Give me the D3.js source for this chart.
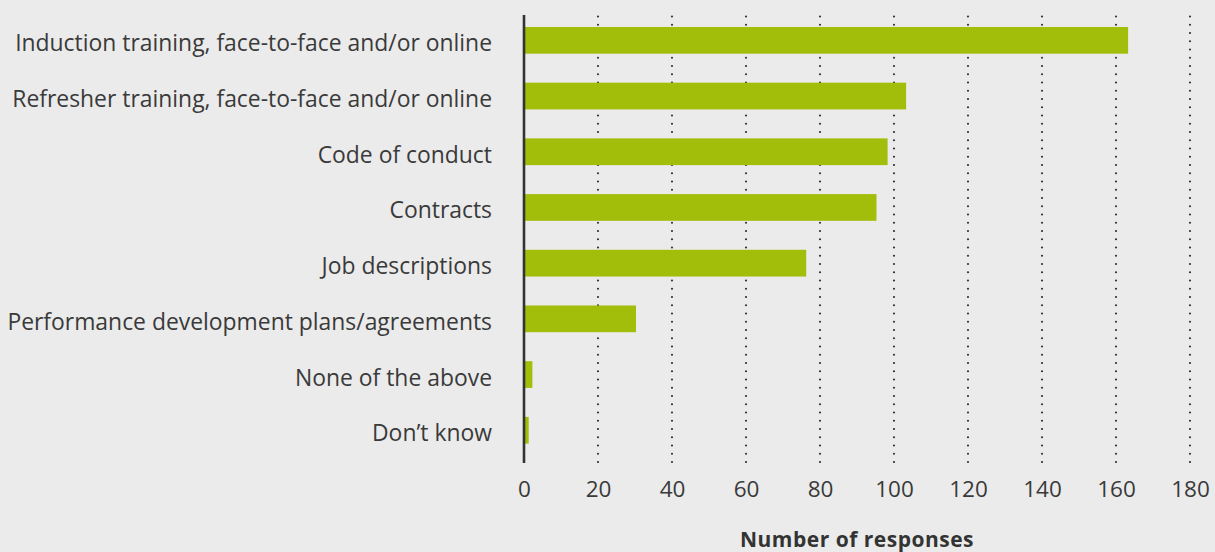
<!DOCTYPE html>
<html>
<head>
<meta charset="utf-8">
<script src="https://cdn.jsdelivr.net/npm/d3@7"></script>
<style>
  html, body { margin: 0; padding: 0; background: #ebebeb; }
  svg { display: block; }
</style>
</head>
<body>
<svg id="chart" width="1215" height="552"></svg>
<script>
// Training and documents used, number of responses per item
const categories = [
  "Induction training, face-to-face and/or online",
  "Refresher training, face-to-face and/or online",
  "Code of conduct",
  "Contracts",
  "Job descriptions",
  "Performance development plans/agreements",
  "None of the above",
  "Don\u2019t know"
];
const responses = [163, 103, 98, 95, 76, 30, 2, 1];
const tickValues = [0, 20, 40, 60, 80, 100, 120, 140, 160, 180];
const axisTitle = "Number of responses";

const W = 1215, H = 552;
const svg = d3.select("#chart");
svg.append("rect").attr("width", W).attr("height", H).attr("fill", "#ebebeb");

const font = "'Open Sans', 'Noto Sans', sans-serif";
const textColor = "#3a3a3a";

const x = d3.scaleLinear().domain([0, 180]).range([524, 1190]);
const y = d3.scaleBand().domain(categories).range([12.5, 458.1])
  .paddingInner(0.52).paddingOuter(0.26);

const plotTop = 15, plotBottom = 463;

// dotted vertical gridlines
svg.append("g").selectAll("line")
  .data(tickValues.filter(v => v > 0))
  .join("line")
  .attr("x1", d => x(d)).attr("x2", d => x(d))
  .attr("y1", plotTop + 1.5).attr("y2", plotBottom)
  .attr("stroke", "#333")
  .attr("stroke-width", 2.2)
  .attr("stroke-linecap", "round")
  .attr("stroke-dasharray", "0 8.25");

// bars
svg.append("g").selectAll("rect")
  .data(categories)
  .join("rect")
  .attr("x", x(0) + 1)
  .attr("y", d => y(d))
  .attr("width", (d, i) => x(responses[i]) - x(0))
  .attr("height", y.bandwidth())
  .attr("fill", "#a3bd0b");

// category axis line
svg.append("line")
  .attr("x1", x(0)).attr("x2", x(0))
  .attr("y1", plotTop).attr("y2", plotBottom)
  .attr("stroke", "#333").attr("stroke-width", 2.6);

// category labels
svg.append("g").selectAll("text")
  .data(categories)
  .join("text")
  .attr("x", 492)
  .attr("y", d => y(d) + y.bandwidth() / 2 + 11)
  .attr("text-anchor", "end")
  .attr("font-family", font)
  .attr("font-size", 22.9)
  .attr("fill", textColor)
  .text(d => d);

// value axis tick labels
const xAxis = d3.axisBottom(x).tickValues(tickValues).tickSize(0).tickPadding(0);
const gx = svg.append("g").call(xAxis);
gx.select(".domain").remove();
gx.selectAll("text")
  .attr("y", 496.5)
  .attr("dy", null)
  .attr("font-family", font)
  .attr("font-size", 22.5)
  .attr("fill", textColor);

// axis title
svg.append("text")
  .attr("x", (x.range()[0] + x.range()[1]) / 2)
  .attr("y", 546.5)
  .attr("text-anchor", "middle")
  .attr("font-family", font)
  .attr("font-weight", "bold")
  .attr("font-size", 21)
  .attr("letter-spacing", 0.5)
  .attr("fill", "#333")
  .text(axisTitle);
</script>
</body>
</html>
